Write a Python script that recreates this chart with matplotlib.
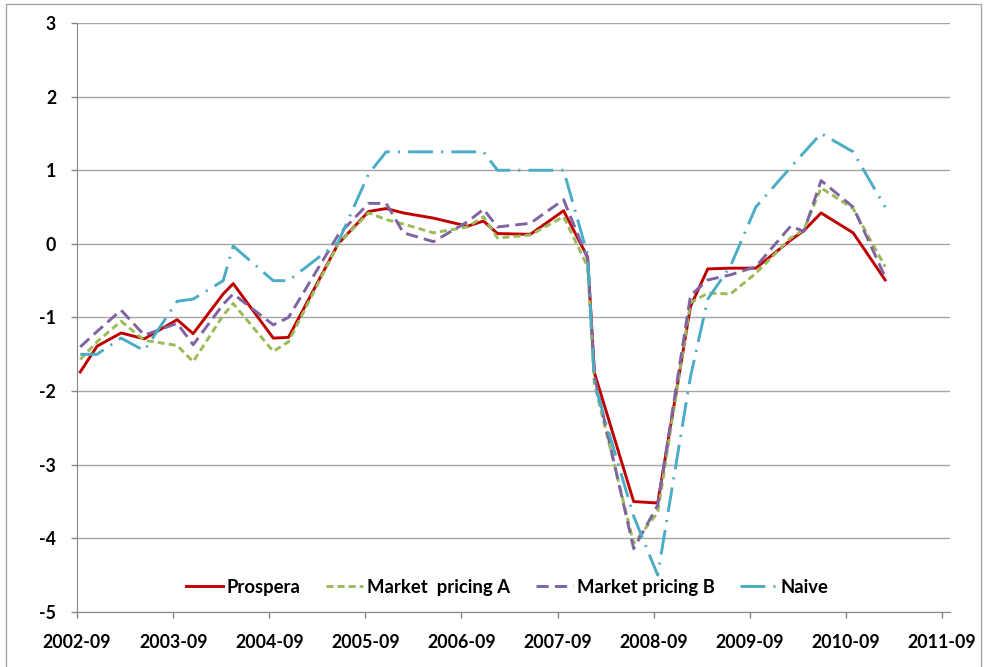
import matplotlib
matplotlib.use("Agg")
import matplotlib.pyplot as plt
from matplotlib.patches import Rectangle

plt.rcParams['font.family'] = ['Lato', 'DejaVu Sans']
plt.rcParams['axes.unicode_minus'] = False

# months after 2002-09 at which the forecasts are plotted
months = [0.4, 2.5, 5.5, 8.4, 12.5, 14.5, 18.25, 19.5, 24.5, 26.4, 32.6, 36.4,
          38.6, 40.75, 44.5, 48.75, 50.75, 52.5, 56.6, 60.75, 63.75, 64.6,
          69.5, 72.5, 76.6, 78.75, 81.6, 84.75, 89.1, 90.75, 92.9, 96.9, 100.9]

prospera = [-1.74, -1.39, -1.21, -1.29, -1.03, -1.22, -0.68, -0.54, -1.28, -1.27,
            0.0, 0.44, 0.48, 0.42, 0.35, 0.24, 0.31, 0.14, 0.13, 0.45, -0.18,
            -1.75, -3.50, -3.52, -0.85, -0.34, -0.33, -0.33, 0.05, 0.18, 0.42,
            0.15, -0.49]
market_a = [-1.57, -1.33, -1.05, -1.31, -1.38, -1.60, -0.97, -0.81, -1.46, -1.33,
            0.0, 0.42, 0.33, 0.27, 0.15, 0.23, 0.37, 0.08, 0.12, 0.37, -0.31,
            -1.90, -4.07, -3.65, -0.80, -0.67, -0.68, -0.40, 0.08, 0.19, 0.76,
            0.48, -0.31]
market_b = [-1.40, -1.19, -0.90, -1.24, -1.08, -1.37, -0.82, -0.68, -1.10, -1.00,
            0.12, 0.55, 0.55, 0.15, 0.03, 0.30, 0.47, 0.23, 0.28, 0.60, -0.20,
            -1.80, -4.14, -3.55, -0.70, -0.49, -0.42, -0.31, 0.24, 0.17, 0.86,
            0.50, -0.45]
naive = [-1.50, -1.50, -1.28, -1.45, -0.78, -0.75, -0.50, -0.03, -0.50, -0.50,
         0.02, 0.95, 1.25, 1.25, 1.25, 1.25, 1.25, 1.00, 1.00, 1.00, -0.15,
         -1.90, -3.70, -4.50, -1.80, -0.75, -0.30, 0.50, 1.04, 1.24, 1.50,
         1.25, 0.50]

tick_labels = ['2002-09', '2003-09', '2004-09', '2005-09', '2006-09',
               '2007-09', '2008-09', '2009-09', '2010-09', '2011-09']

fig = plt.figure(figsize=(9.85, 6.67), dpi=100)
ax = fig.add_axes([0.0782, 0.0825, 0.8863, 0.883])

ax.plot(months, prospera, color='#C00000', lw=2.1, label='Prospera')
ax.plot(months, market_a, color='#9BBB59', lw=2.1, dashes=(2.4, 1.4),
        label='Market  pricing A')
ax.plot(months, market_b, color='#8064A2', lw=2.1, dashes=(4.2, 2.1),
        label='Market pricing B')
ax.plot(months, naive, color='#4BACC6', lw=2.1, dashes=(8.5, 2.8, 0.7, 2.8),
        label='Naive')

ax.set_xlim(0, 109)
ax.set_ylim(-5, 3)
ax.set_xticks([12 * i for i in range(len(tick_labels))])
ax.set_xticklabels(tick_labels)
ax.set_yticks(range(-5, 4))

ax.grid(axis='y', color='#a6a6a6', lw=1)
ax.set_axisbelow(True)
for s in ['top', 'right']:
    ax.spines[s].set_visible(False)
for s in ['left', 'bottom']:
    ax.spines[s].set_color('#868686')
ax.tick_params(axis='both', colors='#868686', length=4, width=1, labelcolor='black')
ax.tick_params(axis='y', pad=11)
ax.tick_params(axis='x', pad=12)
for lab in ax.get_xticklabels() + ax.get_yticklabels():
    lab.set_fontweight('bold')
    lab.set_fontsize(12.8)

ax.legend(loc='center', bbox_to_anchor=(0.493, 0.042), ncol=4, frameon=False,
          prop={'weight': 'bold', 'size': 13.3}, handlelength=2.0,
          columnspacing=1.4, handletextpad=0.2, borderpad=0)

fig.patches.append(Rectangle((6 / 985, -0.01), 975 / 985, 1 - 4 / 667 + 0.01,
                             transform=fig.transFigure, fill=False,
                             edgecolor='#a6a6a6', lw=1))

plt.savefig('out.png', dpi=100)
